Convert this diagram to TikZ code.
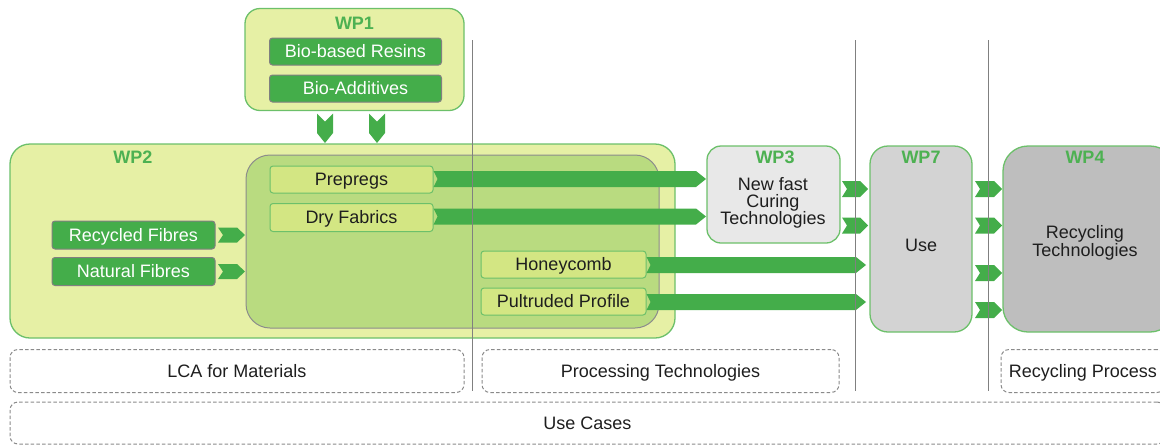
\documentclass[tikz,border=0pt]{standalone}
\usepackage{fontspec}
\setmainfont{Liberation Sans}
\usetikzlibrary{calc}
\definecolor{paleyg}{HTML}{E6F0A5}
\definecolor{bordg}{HTML}{6CC06A}
\definecolor{darkg}{HTML}{44AD4A}
\definecolor{innerg}{HTML}{B9DB80}
\definecolor{lightg}{HTML}{D3E683}
\definecolor{titleg}{HTML}{4DB152}
\definecolor{gA}{HTML}{E8E8E8}
\definecolor{gB}{HTML}{D3D3D3}
\definecolor{gC}{HTML}{BEBEBE}
\definecolor{vline}{HTML}{808080}
\definecolor{dashc}{HTML}{8A8A8A}
\definecolor{txt}{HTML}{1E1E1E}
\tikzset{
  base/.style={font=\fontsize{18}{16.7}\selectfont, inner sep=0pt, outer sep=0pt, text=txt, text height=12.9pt, text depth=0pt},
  multi/.style={base, align=center, text height=, text depth=},
  wpbox/.style={base, draw=bordg, line width=1.3pt},
  wptitle/.style={base, font=\fontsize{18}{16.7}\selectfont\bfseries, text=titleg},
  darkbox/.style={base, draw=gray, fill=darkg, text=white, rounded corners=3pt, line width=1pt},
  lightbox/.style={base, draw=bordg, fill=lightg, rounded corners=3pt, line width=1pt},
  dashbox/.style={base, draw=dashc, dash pattern=on 3.5pt off 2.2pt, rounded corners=8pt, line width=1pt},
  chevR/.style n args={3}{fill=darkg, to path={let \p1=(\tikztostart), \p2=(\tikztotarget) in
     (\x1,\y1+#1) -- (\x2-#3,\y1+#1) -- (\x2,\y1) -- (\x2-#3,\y1-#1) -- (\x1,\y1-#1) -- (\x1+#2,\y1) -- cycle}},
  chevD/.style n args={3}{fill=darkg, to path={let \p1=(\tikztostart), \p2=(\tikztotarget) in
     (\x1+#1,\y1) -- (\x1+#1,\y2+#3) -- (\x1,\y2) -- (\x1-#1,\y2+#3) -- (\x1-#1,\y1) -- (\x1,\y1-#2) -- cycle}},
  sepline/.style={draw=vline, line width=0.9pt}
}
\begin{document}
\begin{tikzpicture}[x=1pt,y=-1pt]
\useasboundingbox (0,0) rectangle (1160,445);
\clip (0,0) rectangle (1160,445);
% WP1
\node[wpbox, fill=paleyg, rounded corners=15pt, minimum width=219pt, minimum height=102pt] (wp1) at (354.5,59.5) {};
\node[wptitle] (wp1t) at (354.5,23) {WP1};
\node[darkbox, minimum width=172pt, minimum height=27pt] (bbr) at (355.5,51.5) {Bio-based Resins};
\node[darkbox, minimum width=172pt, minimum height=27pt] (badd) at (355.5,88.5) {Bio-Additives};
% WP2
\node[wpbox, fill=paleyg, rounded corners=20pt, minimum width=665pt, minimum height=194pt] (wp2) at (342.5,241) {};
\node[wptitle] (wp2t) at (133,157) {WP2};
\node[base, draw=gray!90, fill=innerg, line width=1pt, rounded corners=24pt, minimum width=413pt, minimum height=173pt] (inner) at (452.5,241.5) {};
\node[lightbox, minimum width=163pt, minimum height=27pt] (prep) at (351.5,179.5) {Prepregs};
\node[lightbox, minimum width=163pt, minimum height=28pt] (dry) at (351.5,217.5) {Dry Fabrics};
\node[lightbox, minimum width=165pt, minimum height=27pt] (honey) at (563.5,264.5) {Honeycomb};
\node[lightbox, minimum width=165pt, minimum height=27pt] (pult) at (563.5,301.5) {Pultruded Profile};
\node[darkbox, minimum width=163pt, minimum height=28pt] (recf) at (133.5,235) {Recycled Fibres};
\node[darkbox, minimum width=163pt, minimum height=28pt] (natf) at (133.5,271.5) {Natural Fibres};
% WP3, WP7, WP4
\node[wpbox, fill=gA, rounded corners=14pt, minimum width=133pt, minimum height=97pt] (wp3) at (773.5,194.5) {};
\node[wptitle] (wp3t) at (775,157) {WP3};
\node[multi] (wp3x) at (773,203) {New fast\\Curing\\Technologies};
\node[wpbox, fill=gB, rounded corners=18pt, minimum width=102pt, minimum height=186pt] (wp7) at (921,239) {};
\node[wptitle] (wp7t) at (921,157) {WP7};
\node[base] (use) at (921,245) {Use};
\node[wpbox, fill=gC, rounded corners=25pt, minimum width=172pt, minimum height=186pt] (wp4) at (1089,239) {};
\node[wptitle] (wp4t) at (1085,157) {WP4};
\node[multi] (wp4x) at (1085,243) {Recycling\\Technologies};
% connectors
\fill[chevD={8pt}{8pt}{10pt}] ($(wp1.south)+(-29.5,3)$) to ($(wp2.north)+(-17.5,-1)$);
\fill[chevD={8pt}{8pt}{10pt}] ($(wp1.south)+(22.5,3)$) to ($(wp2.north)+(34.5,-1)$);
\fill[chevR={7.5pt}{5pt}{8pt}] ($(recf.east)+(3,0)$) to ($(inner.west |- recf.east)+(-1,0)$);
\fill[chevR={7.5pt}{5pt}{8pt}] ($(natf.east)+(3,0)$) to ($(inner.west |- natf.east)+(-1,0)$);
\fill[chevR={8pt}{4pt}{10pt}] ($(prep.east)+(0.5,-0.5)$) to ($(wp3.west |- prep.east)+(-1,0)$);
\fill[chevR={8pt}{4pt}{10pt}] ($(dry.east)+(0.5,-1)$) to ($(wp3.west |- dry.east)+(-1,0)$);
\fill[chevR={8pt}{4pt}{10pt}] ($(honey.east)+(0.5,0.5)$) to ($(wp7.west |- honey.east)+(-4,0)$);
\fill[chevR={8pt}{4pt}{10pt}] ($(pult.east)+(0.5,0.5)$) to ($(wp7.west |- pult.east)+(-4,0)$);
\fill[chevR={8pt}{5pt}{8pt}] ($(wp3.east)+(2,-5.5)$) to ($(wp7.west)+(-2,-50)$);
\fill[chevR={8pt}{5pt}{8pt}] ($(wp3.east)+(2,31)$) to ($(wp7.west)+(-2,-13.5)$);
\fill[chevR={8pt}{5pt}{8pt}] ($(wp7.east)+(3,-50)$) to ($(wp4.west)+(-1,-50)$);
\fill[chevR={8pt}{5pt}{8pt}] ($(wp7.east)+(3,-13.5)$) to ($(wp4.west)+(-1,-13.5)$);
\fill[chevR={8pt}{5pt}{8pt}] ($(wp7.east)+(3,34)$) to ($(wp4.west)+(-1,34)$);
\fill[chevR={8pt}{5pt}{8pt}] ($(wp7.east)+(3,71)$) to ($(wp4.west)+(-1,71)$);
% dashed boxes
\node[dashbox, minimum width=454pt, minimum height=43pt] (lca) at (237,371) {LCA for Materials};
\node[dashbox, minimum width=357pt, minimum height=43pt] (proc) at (660.5,371) {Processing Technologies};
\node[dashbox, minimum width=164pt, minimum height=43pt] (recp) at (1083,371) {Recycling Process};
\node[dashbox, minimum width=1155pt, minimum height=42pt] (usec) at (587.5,423) {Use Cases};
% separator lines
\coordinate (s1a) at (472,40); \coordinate (s1b) at (472,391);
\coordinate (s2a) at (855,40); \coordinate (s2b) at (855,391);
\coordinate (s3a) at (988,40); \coordinate (s3b) at (988,391);
\draw[sepline] (s1a) -- (s1b);
\draw[sepline] (s2a) -- (s2b);
\draw[sepline] (s3a) -- (s3b);
\end{tikzpicture}
\end{document}
